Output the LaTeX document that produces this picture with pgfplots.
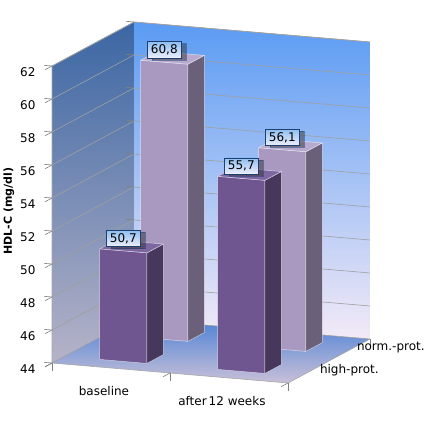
\documentclass[border=0pt]{standalone}
\usepackage{pgfplots}
\pgfplotsset{compat=1.18}
\usepackage{fontspec}
\setmainfont{DejaVu Sans}
\usetikzlibrary{shadows}

\definecolor{hpFront}{HTML}{6F5690}
\definecolor{hpSide}{HTML}{47375C}
\definecolor{hpTop}{HTML}{7E67A1}
\definecolor{npFront}{HTML}{A999C1}
\definecolor{npSide}{HTML}{6B6079}
\definecolor{npTop}{HTML}{B8AACF}
\definecolor{leftTop}{HTML}{3B66A3}
\definecolor{leftBot}{HTML}{B6B3C8}
\definecolor{backTop}{HTML}{5A9BF3}
\definecolor{backBot}{HTML}{F3EAF7}
\definecolor{floorBack}{HTML}{4C82D6}
\definecolor{floorFront}{HTML}{C9C0D8}
\definecolor{lblBorder}{HTML}{1F3F70}
\definecolor{lblTop}{HTML}{8DBFF2}
\definecolor{lblBot}{HTML}{EEEEFA}

\pgfplotsset{
  face/.style={draw=white, draw opacity=0.6, line width=0.5pt},
  hpF/.style={face, fill=hpFront},
  hpS/.style={face, fill=hpSide},
  hpT/.style={face, fill=hpTop},
  npF/.style={face, fill=npFront},
  npS/.style={face, fill=npSide},
  npT/.style={face, fill=npTop},
}

\begin{document}
\begin{tikzpicture}
\begin{axis}[
  set layers,
  x={(118pt,-10pt)}, y={(41pt,22pt)}, z={(0pt,16.5pt)},
  xmin=-0.5, xmax=1.5, ymin=-0.5, ymax=1.5, zmin=44, zmax=62,
  clip=false,
  axis line style={draw=none},
  tick pos=left,
  xtick={0,1}, xticklabels={baseline, after\,12 weeks},
  ytick={0,1}, yticklabels={high-prot., {\hspace*{-4pt}\raisebox{4pt}{norm.-prot.}}},
  ztick={44,46,...,62},
  minor xtick={-0.5,0.5,1.5},
  major x tick style={draw=none}, major y tick style={draw=none},
  zmajorgrids, grid style={gray!75, line width=0.6pt},
  tick align=outside, tick style={gray, line width=0.6pt},
  major tick length=8pt, minor tick length=8pt,
  zlabel={HDL-C (mg/dl)},
  every axis z label/.style={at={(axis cs:-0.5,-0.5,53.2)}, anchor=center,
    xshift=-43pt, rotate=90, font=\bfseries\fontsize{11}{13}\selectfont},
  ticklabel style={font=\fontsize{12}{14}\selectfont},
  xticklabel style={anchor=north, yshift=-11pt},
  yticklabel style={anchor=west, xshift=0pt, yshift=2pt},
  zticklabel style={xshift=-6pt},
  /pgf/number format/assume math mode=true,
]
% walls and floor
\begin{pgfonlayer}{axis background}
\shade[top color=leftTop, bottom color=leftBot]
  (axis cs:-0.5,-0.5,44) -- (axis cs:-0.5,1.5,44) -- (axis cs:-0.5,1.5,62) -- (axis cs:-0.5,-0.5,62) -- cycle;
\shade[top color=backTop, bottom color=backBot]
  (axis cs:-0.5,1.5,44) -- (axis cs:1.5,1.5,44) -- (axis cs:1.5,1.5,62) -- (axis cs:-0.5,1.5,62) -- cycle;
\shade[top color=floorBack, bottom color=floorFront]
  (axis cs:-0.5,-0.5,44) -- (axis cs:1.5,-0.5,44) -- (axis cs:1.5,1.5,44) -- (axis cs:-0.5,1.5,44) -- cycle;
\draw[gray!70, line width=0.6pt] (axis cs:-0.5,-0.5,44) -- (axis cs:-0.5,-0.5,62) -- (axis cs:-0.5,1.5,62) -- (axis cs:1.5,1.5,62);
\draw[gray!70, line width=0.6pt] (axis cs:-0.5,-0.5,44) -- (axis cs:1.5,-0.5,44) -- (axis cs:1.5,1.5,44);
\end{pgfonlayer}
\coordinate (O) at (axis cs:-0.5,-0.5,44);

% norm.-prot., baseline: 60.8
\addplot3[npF] coordinates {(-0.2,0.8,44) (0.2,0.8,44) (0.2,0.8,60.8) (-0.2,0.8,60.8) (-0.2,0.8,44)};
\addplot3[npS] coordinates {(0.2,0.8,44) (0.2,1.2,44) (0.2,1.2,60.8) (0.2,0.8,60.8) (0.2,0.8,44)};
\addplot3[npT] coordinates {(-0.2,0.8,60.8) (0.2,0.8,60.8) (0.2,1.2,60.8) (-0.2,1.2,60.8) (-0.2,0.8,60.8)};
% norm.-prot., after 12 weeks: 56.1
\addplot3[npF] coordinates {(0.8,0.8,44) (1.2,0.8,44) (1.2,0.8,56.1) (0.8,0.8,56.1) (0.8,0.8,44)};
\addplot3[npS] coordinates {(1.2,0.8,44) (1.2,1.2,44) (1.2,1.2,56.1) (1.2,0.8,56.1) (1.2,0.8,44)};
\addplot3[npT] coordinates {(0.8,0.8,56.1) (1.2,0.8,56.1) (1.2,1.2,56.1) (0.8,1.2,56.1) (0.8,0.8,56.1)};
% high-prot., baseline: 50.7
\addplot3[hpF] coordinates {(-0.2,-0.2,44) (0.2,-0.2,44) (0.2,-0.2,50.7) (-0.2,-0.2,50.7) (-0.2,-0.2,44)};
\addplot3[hpS] coordinates {(0.2,-0.2,44) (0.2,0.2,44) (0.2,0.2,50.7) (0.2,-0.2,50.7) (0.2,-0.2,44)};
\addplot3[hpT] coordinates {(-0.2,-0.2,50.7) (0.2,-0.2,50.7) (0.2,0.2,50.7) (-0.2,0.2,50.7) (-0.2,-0.2,50.7)};
% high-prot., after 12 weeks: 55.7
\addplot3[hpF] coordinates {(0.8,-0.2,44) (1.2,-0.2,44) (1.2,-0.2,55.7) (0.8,-0.2,55.7) (0.8,-0.2,44)};
\addplot3[hpS] coordinates {(1.2,-0.2,44) (1.2,0.2,44) (1.2,0.2,55.7) (1.2,-0.2,55.7) (1.2,-0.2,44)};
\addplot3[hpT] coordinates {(0.8,-0.2,55.7) (1.2,-0.2,55.7) (1.2,0.2,55.7) (0.8,0.2,55.7) (0.8,-0.2,55.7)};

% data labels
\addplot3[only marks, mark=none, point meta=z,
  nodes near coords={\pgfmathprintnumber[fixed,fixed zerofill,precision=1,use comma]{\pgfplotspointmeta}},
  nodes near coords style={anchor=south, yshift=4pt, draw=lblBorder, line width=0.6pt,
    top color=lblTop, bottom color=lblBot, inner xsep=3.5pt, inner ysep=3pt,
    font=\fontsize{12}{14}\selectfont,
    drop shadow={shadow xshift=5pt, shadow yshift=-2pt, opacity=0.5, fill=black!80}},
] coordinates {(0,0.8,60.8) (1,0.8,56.1) (0,-0.2,50.7) (1,-0.2,55.7)};
\end{axis}
\pgfresetboundingbox
\path (O) ++(-52pt,-73pt) rectangle ++(430pt,436pt);
\end{tikzpicture}
\end{document}
